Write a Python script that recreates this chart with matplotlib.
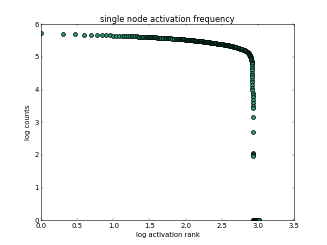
import matplotlib
matplotlib.use("Agg")
import matplotlib.pyplot as plt
import numpy as np

# activation rank of each node, and log10 of how often it fired
rank = [1, 2, 3, 4, 5, 6, 7, 8, 9, 10,
        11, 12, 13, 14, 15, 16, 17, 18, 19, 20,
        21, 22, 23, 24, 25, 26, 27, 28, 29, 30,
        31, 32, 33, 34, 35, 36, 37, 38, 39, 40,
        41, 43, 44, 46, 48, 49, 51, 53, 55, 57,
        59, 61, 63, 65, 68, 70, 73, 75, 78, 81,
        82, 84, 85, 87, 88, 90, 91, 93, 94, 96,
        98, 100, 101, 103, 105, 107, 109, 111, 113, 115,
        117, 119, 121, 123, 125, 127, 130, 132, 135, 137,
        139, 141, 143, 146, 149, 152, 154, 157, 160, 163,
        165, 168, 171, 174, 177, 180, 184, 187, 190, 193,
        197, 200, 204, 207, 211, 215, 218, 222, 226, 230,
        234, 238, 243, 247, 251, 255, 260, 264, 269, 274,
        279, 283, 288, 293, 299, 304, 309, 314, 320, 325,
        331, 337, 343, 349, 355, 361, 368, 374, 381, 387,
        394, 400, 408, 415, 422, 429, 437, 445, 452, 460,
        469, 477, 486, 494, 503, 511, 520, 529, 538, 548,
        557, 567, 577, 587, 597, 608, 619, 630, 641, 652,
        663, 675, 687, 699, 707, 715, 722, 730, 737, 745,
        752, 760, 765, 770, 775, 780, 785, 790, 794, 798,
        801, 805, 808, 811, 813, 816, 818, 820, 823, 825,
        827, 829, 830, 831, 832, 833, 834, 835, 836, 837,
        838, 839, 840, 841, 842, 843, 844, 845, 846, 847,
        848, 849]
log_count = [5.72, 5.70, 5.69, 5.68, 5.675, 5.67, 5.665, 5.66, 5.658, 5.655,
             5.652, 5.649, 5.646, 5.643, 5.64, 5.638, 5.636, 5.634, 5.632, 5.63,
             5.628, 5.626, 5.624, 5.622, 5.62, 5.618, 5.617, 5.615, 5.614, 5.612,
             5.611, 5.609, 5.607, 5.606, 5.604, 5.602, 5.60, 5.598, 5.597, 5.595,
             5.593, 5.59, 5.589, 5.586, 5.583, 5.581, 5.579, 5.576, 5.574, 5.571,
             5.569, 5.567, 5.565, 5.563, 5.56, 5.558, 5.556, 5.554, 5.551, 5.549,
             5.548, 5.546, 5.545, 5.544, 5.543, 5.541, 5.54, 5.538, 5.537, 5.535,
             5.533, 5.53, 5.529, 5.527, 5.526, 5.524, 5.522, 5.52, 5.519, 5.517,
             5.515, 5.513, 5.512, 5.51, 5.509, 5.507, 5.505, 5.503, 5.501, 5.499,
             5.498, 5.496, 5.495, 5.493, 5.491, 5.489, 5.488, 5.486, 5.484, 5.482,
             5.48, 5.478, 5.476, 5.473, 5.471, 5.468, 5.466, 5.463, 5.461, 5.458,
             5.456, 5.453, 5.451, 5.448, 5.446, 5.443, 5.441, 5.438, 5.435, 5.432,
             5.43, 5.427, 5.425, 5.422, 5.42, 5.418, 5.416, 5.413, 5.411, 5.408,
             5.406, 5.404, 5.402, 5.40, 5.398, 5.395, 5.393, 5.391, 5.389, 5.386,
             5.383, 5.38, 5.377, 5.374, 5.371, 5.368, 5.365, 5.362, 5.358, 5.355,
             5.352, 5.349, 5.345, 5.34, 5.336, 5.331, 5.327, 5.322, 5.318, 5.313,
             5.308, 5.303, 5.299, 5.294, 5.29, 5.285, 5.28, 5.275, 5.27, 5.264,
             5.259, 5.253, 5.248, 5.242, 5.237, 5.231, 5.226, 5.22, 5.212, 5.203,
             5.194, 5.183, 5.172, 5.16, 5.153, 5.145, 5.135, 5.125, 5.113, 5.10,
             5.085, 5.07, 5.06, 5.05, 5.035, 5.02, 5.005, 4.99, 4.975, 4.96,
             4.94, 4.92, 4.90, 4.88, 4.855, 4.83, 4.805, 4.78, 4.72, 4.66,
             4.60, 4.52, 4.45, 4.38, 4.30, 4.22, 4.14, 4.06, 3.98, 3.90,
             3.84, 3.78, 3.69, 3.59, 3.50, 3.43, 3.15, 2.70, 2.06, 2.02,
             1.99, 1.98]

# nodes that fired only once (log count 0)
single_rank = [850, 856, 862, 868, 874, 880, 886, 892, 898, 904,
               910, 916, 922, 928, 934, 940, 946, 952, 958, 964,
               970, 976, 982, 988, 994, 1000, 1006, 1012, 1018, 1024, 1030]
single_log_count = [0.0] * len(single_rank)

plt.style.use("classic")
fig = plt.figure(figsize=(8, 6), dpi=327 / 8.0)
ax = fig.add_subplot(111)

x = np.log10(rank + single_rank)
y = np.array(log_count + single_log_count)
ax.scatter(x, y, s=45, c="#27a070", edgecolors="black", linewidths=1.3)

ax.set_xlim(0, 3.5)
ax.set_ylim(0, 6)
ax.set_title("single node activation frequency")
ax.set_xlabel("log activation rank")
ax.set_ylabel("log counts")

fig.savefig("out.png", dpi=327 / 8.0)
